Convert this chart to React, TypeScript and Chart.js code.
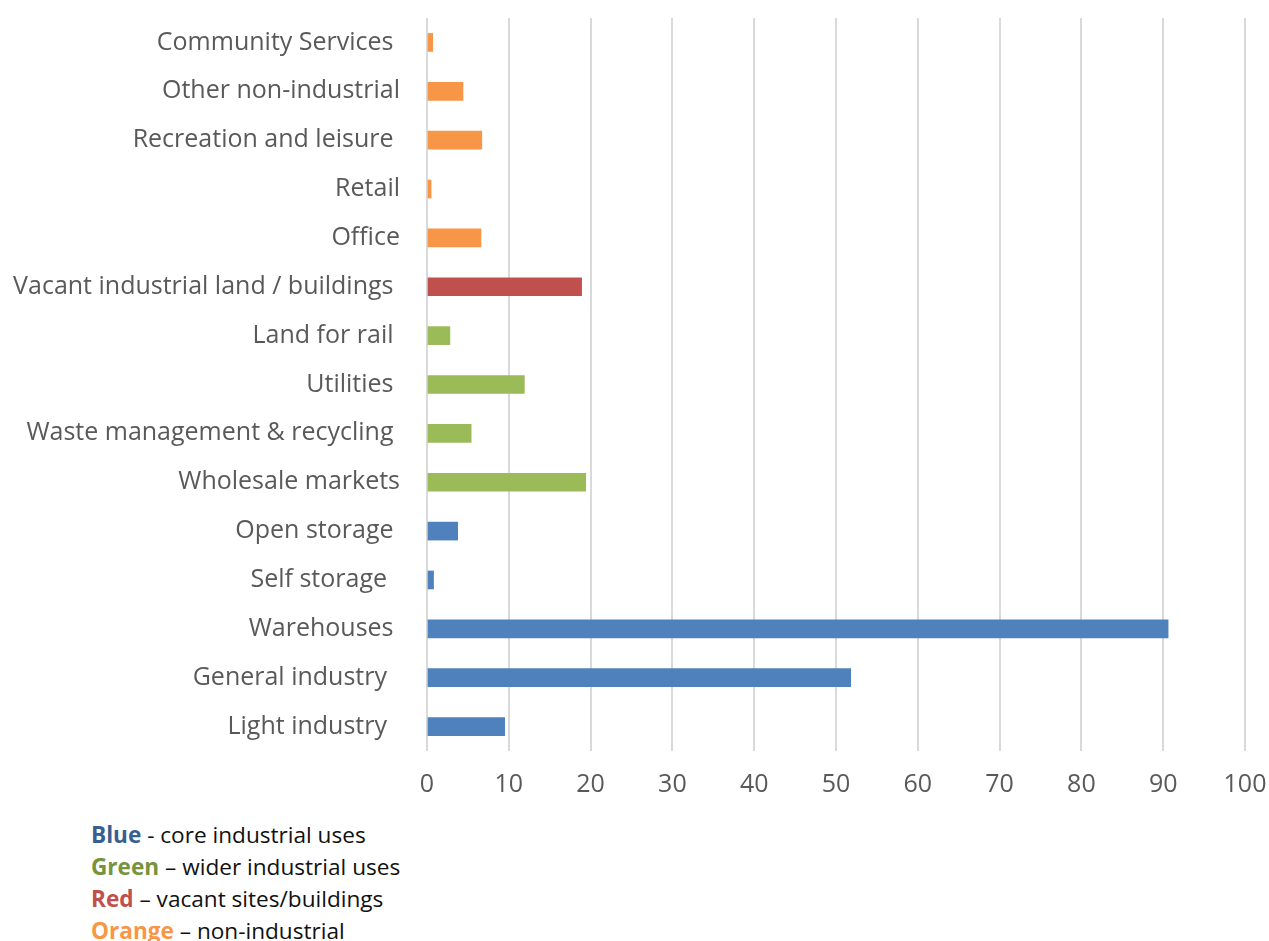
import React, { useEffect, useRef } from "react";
import { Chart, registerables } from "chart.js";

Chart.register(...registerables);

const categories = [
  "Community Services ",
  "Other non-industrial",
  "Recreation and leisure ",
  "Retail",
  "Office",
  "Vacant industrial land / buildings ",
  "Land for rail ",
  "Utilities ",
  "Waste management & recycling ",
  "Wholesale markets",
  "Open storage ",
  "Self storage  ",
  "Warehouses ",
  "General industry  ",
  "Light industry  ",
];

const values = [0.7, 4.4, 6.7, 0.5, 6.6, 18.9, 2.8, 11.9, 5.4, 19.4, 3.75, 0.8, 90.6, 51.8, 9.5];

const groups = [
  "orange", "orange", "orange", "orange", "orange",
  "red",
  "green", "green", "green", "green",
  "blue", "blue", "blue", "blue", "blue",
];

const xTicks = [0, 10, 20, 30, 40, 50, 60, 70, 80, 90, 100];

const barColors: Record<string, string> = {
  blue: "#4f81bd",
  green: "#9bbb59",
  red: "#c0504d",
  orange: "#f79646",
};

const legendItems = [
  { word: "Blue", rest: " - core industrial uses", color: "#376092" },
  { word: "Green", rest: " \u2013 wider industrial uses", color: "#77933c" },
  { word: "Red", rest: " \u2013 vacant sites/buildings", color: "#c0504d" },
  { word: "Orange", rest: " \u2013 non-industrial", color: "#f79646" },
];

const FONT = "'Open Sans', 'Noto Sans', sans-serif";

export default function App() {
  const ref = useRef<HTMLCanvasElement | null>(null);

  useEffect(() => {
    if (!ref.current) return;
    const chart = new Chart(ref.current, {
      type: "bar",
      data: {
        labels: categories,
        datasets: [
          {
            data: values,
            backgroundColor: groups.map((g) => barColors[g]),
            barThickness: 18,
          },
        ],
      },
      options: {
        indexAxis: "y",
        animation: false,
        responsive: false,
        maintainAspectRatio: false,
        layout: { padding: { top: 18, right: 24, left: 0, bottom: 0 } },
        plugins: { legend: { display: false }, tooltip: { enabled: false } },
        scales: {
          x: {
            min: 0,
            max: 100,
            afterBuildTicks: (scale: any) => {
              scale.ticks = xTicks.map((v) => ({ value: v }));
            },
            grid: {
              color: "#d9d9d9",
              lineWidth: 2,
              drawTicks: true,
              tickLength: 19,
              tickColor: "rgba(0,0,0,0)",
            },
            border: { display: false },
            ticks: {
              color: "#595959",
              font: { family: FONT, size: 25 },
              padding: 0,
              maxRotation: 0,
            },
          },
          y: {
            grid: { display: false, drawTicks: true, tickLength: 27 },
            border: { display: false },
            afterFit: (scale: any) => {
              scale.width = 427;
            },
            ticks: {
              color: "#595959",
              font: { family: FONT, size: 25 },
              padding: 0,
              autoSkip: false,
            },
          },
        },
      },
    });
    return () => chart.destroy();
  }, []);

  return (
    <div style={{ position: "fixed", left: 0, top: 0, width: 1269, height: 941, background: "#fff", overflow: "hidden" }}>
      <canvas ref={ref} width={1269} height={800} style={{ position: "absolute", left: 0, top: 0, width: 1269, height: 800 }} />
      <div style={{ position: "absolute", left: 91, top: 819, fontFamily: FONT, fontSize: 22.6, lineHeight: "32px", color: "#111" }}>
        {legendItems.map((it) => (
          <div key={it.word} style={{ whiteSpace: "pre" }}>
            <span style={{ color: it.color, fontWeight: 700 }}>{it.word}</span>
            <span>{it.rest}</span>
          </div>
        ))}
      </div>
    </div>
  );
}
